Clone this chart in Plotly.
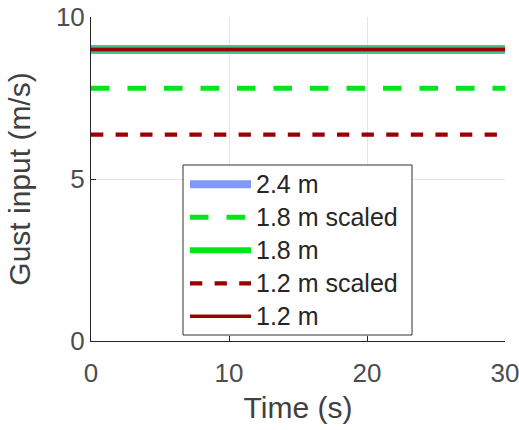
import plotly.graph_objects as go

# Time span of the constant gust inputs (s)
time_s = [0, 30]

# Series labels and gust input levels (m/s)
series_names = ["2.4 m", "1.8 m scaled", "1.8 m", "1.2 m scaled", "1.2 m"]
gust_24 = [9.0, 9.0]
gust_18_scaled = [7.8, 7.8]
gust_18 = [9.0, 9.0]
gust_12_scaled = [6.37, 6.37]
gust_12 = [9.0, 9.0]
series_values = [gust_24, gust_18_scaled, gust_18, gust_12_scaled, gust_12]

x_ticks = [0, 10, 20, 30]
y_ticks = [0, 5, 10]

# Line styling per series
colors = ["#7f99ff", "#00e61a", "#00e61a", "#990000", "#990000"]
widths = [9, 5, 6, 4.3, 3.5]
dashes = ["solid", "18.5px,18px", "solid", "12.3px,12.3px", "solid"]

FONT = "Liberation Sans, Arial, Helvetica, sans-serif"
W, H = 519, 430
L, R, T, B = 91, 14, 17, 89
plot_w = W - L - R
plot_h = H - T - B

fig = go.Figure()
for name, vals, c, w, d in zip(series_names, series_values, colors, widths, dashes):
    fig.add_trace(go.Scatter(
        x=time_s, y=vals, mode="lines", name=name,
        line=dict(color=c, width=w, dash=d), showlegend=False,
    ))


def px_x(p):
    return (p - L) / plot_w


def px_y(p):
    return (H - B - p) / plot_h


# Legend drawn as a boxed panel inside the axes
shapes = [dict(
    type="rect", xref="paper", yref="paper",
    x0=px_x(183), x1=px_x(412), y0=px_y(335), y1=px_y(165),
    line=dict(color="#333333", width=1), fillcolor="white", layer="above",
)]
annotations = []
row_top = 184.3
row_step = 33.0
for i, (name, c, w, d) in enumerate(zip(series_names, colors, widths, dashes)):
    yc = px_y(row_top + i * row_step)
    shapes.append(dict(
        type="line", xref="paper", yref="paper",
        x0=px_x(190), x1=px_x(251), y0=yc, y1=yc,
        line=dict(color=c, width=min(w, 8), dash=d), layer="above",
    ))
    annotations.append(dict(
        text=name, xref="paper", yref="paper", x=px_x(254), y=yc,
        xanchor="left", yanchor="middle", showarrow=False,
        font=dict(family=FONT, size=25, color="#262626"),
    ))

axis_common = dict(
    showgrid=True, gridcolor="#e5e5e5", gridwidth=1,
    zeroline=False, showline=True, linecolor="#262626", linewidth=1,
    ticks="inside", ticklen=5, tickcolor="#262626", mirror=False,
    automargin=False, ticklabeloverflow="allow",
    tickfont=dict(family=FONT, size=26, color="#4d4d4d"),
)

fig.update_layout(
    width=W, height=H,
    margin=dict(l=L, r=R, t=T, b=B),
    paper_bgcolor="white", plot_bgcolor="white",
    xaxis=dict(
        range=[0, 30], tickvals=x_ticks, ticklabelstandoff=9, **axis_common,
        title=dict(text="Time (s)", standoff=9,
                   font=dict(family=FONT, size=30, color="#404040")),
    ),
    yaxis=dict(
        range=[0, 10], tickvals=y_ticks, **axis_common,
        title=dict(text="Gust input (m/s)", standoff=16,
                   font=dict(family=FONT, size=30, color="#404040")),
    ),
    shapes=shapes, annotations=annotations, showlegend=False,
)

fig.write_html("out.html")
